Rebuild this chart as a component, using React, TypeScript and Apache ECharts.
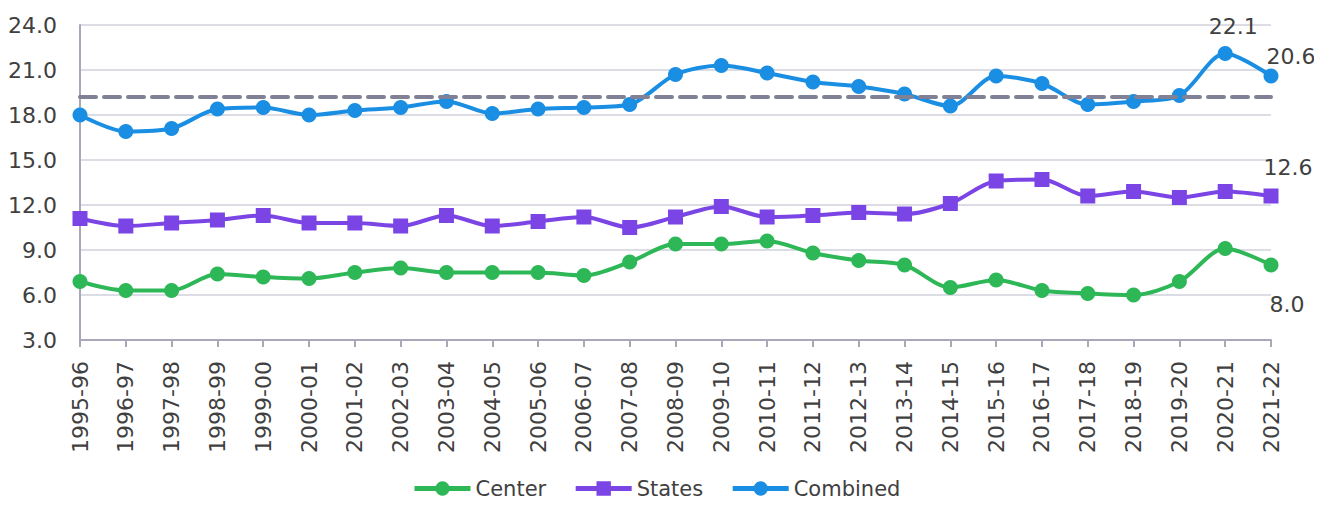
import React, { useEffect, useRef } from "react";
import * as echarts from "echarts";

const categories = [
  "1995-96", "1996-97", "1997-98", "1998-99", "1999-00", "2000-01", "2001-02",
  "2002-03", "2003-04", "2004-05", "2005-06", "2006-07", "2007-08", "2008-09",
  "2009-10", "2010-11", "2011-12", "2012-13", "2013-14", "2014-15", "2015-16",
  "2016-17", "2017-18", "2018-19", "2019-20", "2020-21", "2021-22",
];
const center = [
  6.9, 6.3, 6.3, 7.4, 7.2, 7.1, 7.5, 7.8, 7.5, 7.5, 7.5, 7.3, 8.2, 9.4,
  9.4, 9.6, 8.8, 8.3, 8.0, 6.5, 7.0, 6.3, 6.1, 6.0, 6.9, 9.1, 8.0,
];
const states = [
  11.1, 10.6, 10.8, 11.0, 11.3, 10.8, 10.8, 10.6, 11.3, 10.6, 10.9, 11.2, 10.5, 11.2,
  11.9, 11.2, 11.3, 11.5, 11.4, 12.1, 13.6, 13.7, 12.6, 12.9, 12.5, 12.9, 12.6,
];
const combined = [
  18.0, 16.9, 17.1, 18.4, 18.5, 18.0, 18.3, 18.5, 18.9, 18.1, 18.4, 18.5, 18.7, 20.7,
  21.3, 20.8, 20.2, 19.9, 19.4, 18.6, 20.6, 20.1, 18.7, 18.9, 19.3, 22.1, 20.6,
];
const averageCombined = 19.2;
const yTicks = { min: 3, max: 24, interval: 3 };

const FONT = "DejaVu Sans";
const TEXT = "#404040";

function labelled(values: number[], labels: Record<number, any>) {
  return values.map((v, i) =>
    labels[i] ? { value: v, label: { show: true, ...labels[i] } } : v
  );
}

export default function App() {
  const ref = useRef<HTMLDivElement>(null);
  useEffect(() => {
    if (!ref.current) return;
    const chart = echarts.init(ref.current, undefined, { renderer: "svg" });
    const labelStyle = {
      fontFamily: FONT,
      fontSize: 22,
      color: TEXT,
      formatter: (p: any) => p.value.toFixed(1),
    };
    const last = categories.length - 1;
    chart.setOption({
      animation: false,
      textStyle: { fontFamily: FONT },
      grid: { left: 80, right: 51, top: 25, bottom: 165, containLabel: false },
      legend: {
        top: 478,
        left: 412,
        padding: 0,
        itemWidth: 56,
        itemHeight: 18,
        itemGap: 27,
        lineStyle: { width: 5 },
        textStyle: { fontFamily: FONT, fontSize: 21, color: TEXT },
        data: ["Center", "States", "Combined"],
      },
      xAxis: {
        type: "category",
        data: categories,
        boundaryGap: false,
        axisLine: { lineStyle: { color: "#a8a8ba", width: 2 } },
        axisTick: { show: true, length: 7, lineStyle: { color: "#a8a8ba", width: 2 } },
        axisLabel: {
          rotate: 90,
          interval: 0,
          margin: 21,
          fontFamily: FONT,
          fontSize: 22,
          color: TEXT,
        },
      },
      yAxis: {
        type: "value",
        min: yTicks.min,
        max: yTicks.max,
        interval: yTicks.interval,
        axisLine: { show: true, lineStyle: { color: "#a8a8ba", width: 2 } },
        axisTick: { show: false },
        splitLine: { lineStyle: { color: "#dcdce4", width: 2 } },
        axisLabel: {
          margin: 23,
          fontFamily: FONT,
          fontSize: 22,
          color: TEXT,
          formatter: (v: number) => v.toFixed(1),
        },
      },
      series: [
        {
          name: "Center",
          type: "line",
          smooth: 0.3,
          symbol: "circle",
          symbolSize: 15,
          color: "#2eb757",
          lineStyle: { width: 4 },
          data: labelled(center, {
            [last]: { position: "bottom", offset: [16, 16], ...labelStyle },
          }),
        },
        {
          name: "States",
          type: "line",
          smooth: 0.3,
          symbol: "rect",
          symbolSize: 15,
          color: "#7b45e6",
          lineStyle: { width: 4 },
          data: labelled(states, {
            [last]: { position: "top", offset: [17, -5], ...labelStyle },
          }),
        },
        {
          name: "Combined",
          type: "line",
          smooth: 0.3,
          symbol: "circle",
          symbolSize: 15,
          color: "#1a8ee3",
          lineStyle: { width: 4 },
          data: labelled(combined, {
            [last - 1]: { position: "top", offset: [8, -4], ...labelStyle },
            [last]: { position: "top", offset: [20, 4], ...labelStyle },
          }),
          markLine: {
            silent: true,
            symbol: "none",
            label: { show: false },
            lineStyle: { color: "#808096", type: [16, 8], width: 4, cap: "round" },
            data: [{ yAxis: averageCombined }],
          },
        },
      ],
    });
    return () => chart.dispose();
  }, []);
  return <div ref={ref} style={{ width: 1322, height: 505, margin: -8 }} />;
}
